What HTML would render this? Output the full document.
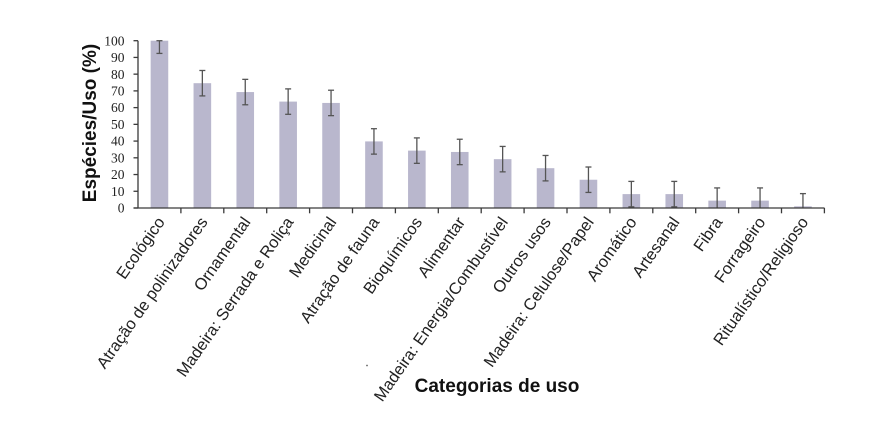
<!DOCTYPE html>
<html><head><meta charset="utf-8"><style>
html,body{margin:0;padding:0;background:#fff;}
svg{display:block;}
</style></head><body>
<svg width="889" height="445" viewBox="0 0 889 445" xmlns="http://www.w3.org/2000/svg">
<rect width="889" height="445" fill="#fff"/>
<g id="bars" fill="#b9b7cd"></g>
<g id="err" stroke="#555" stroke-width="1.3" fill="none"></g>
<g id="axes" stroke="#3a3a3a" stroke-width="1.3" fill="none">
  <line x1="138" y1="40.7" x2="138" y2="208.5"/>
  <line x1="133.5" y1="208" x2="824.5" y2="208"/>
</g>
<g id="yt" font-family="Liberation Serif, serif" font-size="13.5" fill="#222" text-anchor="end"></g>
<g id="xt" font-family="Liberation Sans, sans-serif" font-size="16.4" fill="#222" text-anchor="end"></g>
<text x="96" y="123" transform="rotate(-90 96 123)" text-anchor="middle" font-family="Liberation Sans, sans-serif" font-weight="bold" font-size="19" fill="#111">Espécies/Uso (%)</text>
<text x="497" y="392" text-anchor="middle" font-family="Liberation Sans, sans-serif" font-weight="bold" font-size="19" fill="#111">Categorias de uso</text>
<circle cx="367" cy="365.5" r="0.9" fill="#666"/>
<script>
(function(){
var NS="http://www.w3.org/2000/svg";
function el(t,a,p,txt){var e=document.createElementNS(NS,t);for(var k in a)e.setAttribute(k,a[k]);if(txt!==undefined)e.textContent=txt;p.appendChild(e);return e;}
var y0=208,k=1.673,x0=138,sp=42.9;
function Y(v){return y0-k*v;}
var vals=[100,74.6,69.3,63.6,62.8,39.8,34.3,33.5,29.2,23.8,16.9,8.3,8.3,4.4,4.4,1.0];
var names=["Ecológico","Atração de polinizadores","Ornamental","Madeira: Serrada e Roliça","Medicinal","Atração de fauna","Bioquímicos","Alimentar","Madeira: Energia/Combustível","Outros usos","Madeira: Celulose/Papel","Aromático","Artesanal","Fibra","Forrageiro","Ritualístico/Religioso"];
var bars=document.getElementById("bars"),err=document.getElementById("err"),axes=document.getElementById("axes"),yt=document.getElementById("yt"),xt=document.getElementById("xt");
for(var i=0;i<16;i++){
  var cx=x0+sp*(i+0.5),v=vals[i];
  el("rect",{x:(cx-8.8).toFixed(2),y:Y(v).toFixed(2),width:"17.6",height:(k*v).toFixed(2)},bars);
  var hi=Math.min(100,v+7.6),lo=Math.max(0,v-7.6);
  el("line",{x1:cx,y1:Y(hi),x2:cx,y2:Y(lo)},err);
  el("line",{x1:cx-3,y1:Y(hi),x2:cx+3,y2:Y(hi)},err);
  if(lo>0) el("line",{x1:cx-3,y1:Y(lo),x2:cx+3,y2:Y(lo)},err);
  var tx=x0+sp*(i+1);
  el("line",{x1:tx,y1:208,x2:tx,y2:213.3},axes);
  var ax=cx+6,ay=222;
  el("text",{x:ax,y:ay,transform:"rotate(-55 "+ax+" "+ay+")"},xt,names[i]);
}
for(var j=0;j<=10;j++){
  var yy=Y(j*10);
  el("line",{x1:133.5,y1:yy,x2:138,y2:yy},axes);
  el("text",{x:124.5,y:(yy+4.6).toFixed(2)},yt,String(j*10));
}
})();
</script>
</svg>
</body></html>
